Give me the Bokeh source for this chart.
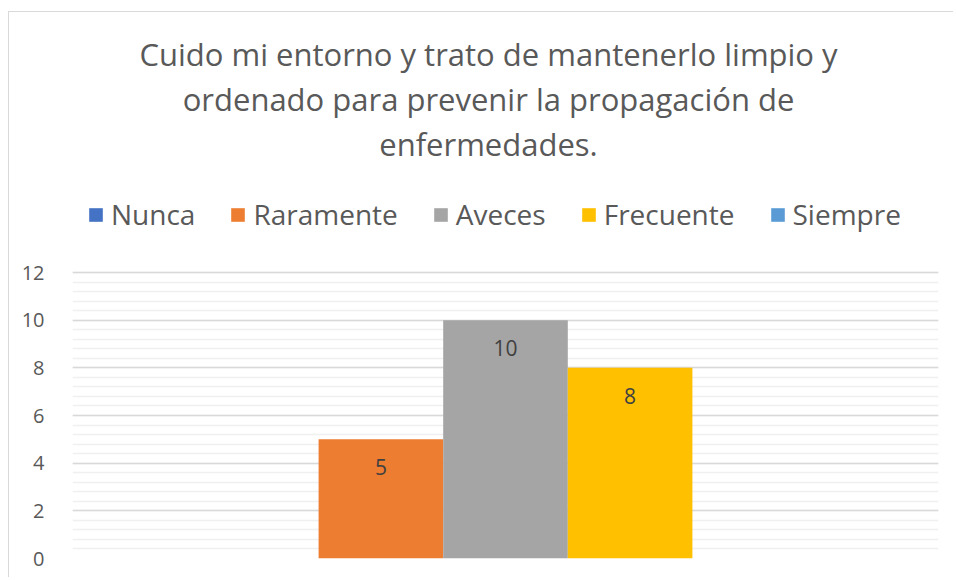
from bokeh.plotting import figure
from bokeh.models import (Range1d, FixedTicker, Legend, LegendItem, Label,
                          ColumnDataSource)
from bokeh.core.properties import value
from bokeh.embed import file_html
from bokeh.resources import INLINE

# ---- data ----
categories = ["Nunca", "Raramente", "Aveces", "Frecuente", "Siempre"]
values = [0, 5, 10, 8, 0]
colors = ["#4472C4", "#ED7D31", "#A5A5A5", "#FFC000", "#5B9BD5"]
title_lines = ["Cuido mi entorno y trato de mantenerlo limpio y",
               "ordenado para prevenir la propagación de",
               "enfermedades."]
y_ticks = [0, 2, 4, 6, 8, 10, 12]
y_max = 12

FONT = "Open Sans"
TXT = "#595959"

# layout: frame covers the whole height; the value axis occupies the lower
# 286 px of a 546 px high frame, title and legend sit in the upper part
FRAME_H = 546
AXIS_H = 286
y_top = y_max * FRAME_H / AXIS_H

p = figure(width=945, height=566, output_backend="svg", toolbar_location=None,
           x_range=Range1d(-3.475, 3.475), y_range=Range1d(0, y_top),
           min_border_left=63, min_border_right=16, min_border_bottom=20,
           min_border_top=0)
p.styles = {"margin-left": "8px", "margin-top": "11px",
            "border-top": "1px solid #d9d9d9",
            "border-left": "1px solid #d9d9d9"}
p.outline_line_color = None
p.background_fill_color = "white"
p.border_fill_color = "white"

n = len(categories)
renderers = []
for i, (cat, v, c) in enumerate(zip(categories, values, colors)):
    src = ColumnDataSource(dict(x=[i - (n - 1) / 2], top=[v]))
    r = p.vbar(x="x", top="top", width=1.0, bottom=0, source=src,
               fill_color=c, line_color=None)
    renderers.append((cat, r))

# data labels (inside end of each bar)
lx = [i - (n - 1) / 2 for i, v in enumerate(values) if v > 0]
ly = [v for v in values if v > 0]
lt = [str(v) for v in values if v > 0]
p.text(x=lx, y=ly, text=lt, text_align="center", text_baseline="middle",
       y_offset=28, text_font=value(FONT), text_font_size="21px",
       text_color="#404040")

# axes
p.xaxis.visible = False
p.yaxis.ticker = FixedTicker(ticks=y_ticks,
                             minor_ticks=[k * 0.4 for k in range(31)])
p.yaxis.bounds = (0, y_max)
p.yaxis.axis_line_color = None
p.yaxis.major_tick_line_color = None
p.yaxis.minor_tick_line_color = None
p.yaxis.major_label_standoff = 22
p.yaxis.major_label_text_font = FONT
p.yaxis.major_label_text_font_size = "20px"
p.yaxis.major_label_text_color = TXT

p.xgrid.visible = False
p.ygrid.grid_line_color = "#d9d9d9"
p.ygrid.grid_line_width = 1.5
p.ygrid.minor_grid_line_color = "#f0f0f0"
p.ygrid.minor_grid_line_width = 1.5

# legend (screen units relative to the frame's bottom-left corner)
legend = Legend(items=[LegendItem(label=c, renderers=[r]) for c, r in renderers],
                orientation="horizontal", location=(15, 325),
                label_text_font=FONT, label_text_font_size="28px",
                label_text_color=TXT, glyph_width=17, glyph_height=17,
                label_standoff=7, spacing=34, border_line_color=None,
                background_fill_alpha=0, padding=0, margin=0)
p.add_layout(legend, "center")

# title lines (baselines measured from the frame bottom)
for line, yb in zip(title_lines, [505, 460, 415]):
    p.add_layout(Label(x=416, y=yb, x_units="screen", y_units="screen",
                       text=line, text_align="center",
                       text_baseline="alphabetic", text_font=FONT,
                       text_font_size="31px", text_color=TXT))

open("out.html", "w").write(file_html(p, INLINE))
